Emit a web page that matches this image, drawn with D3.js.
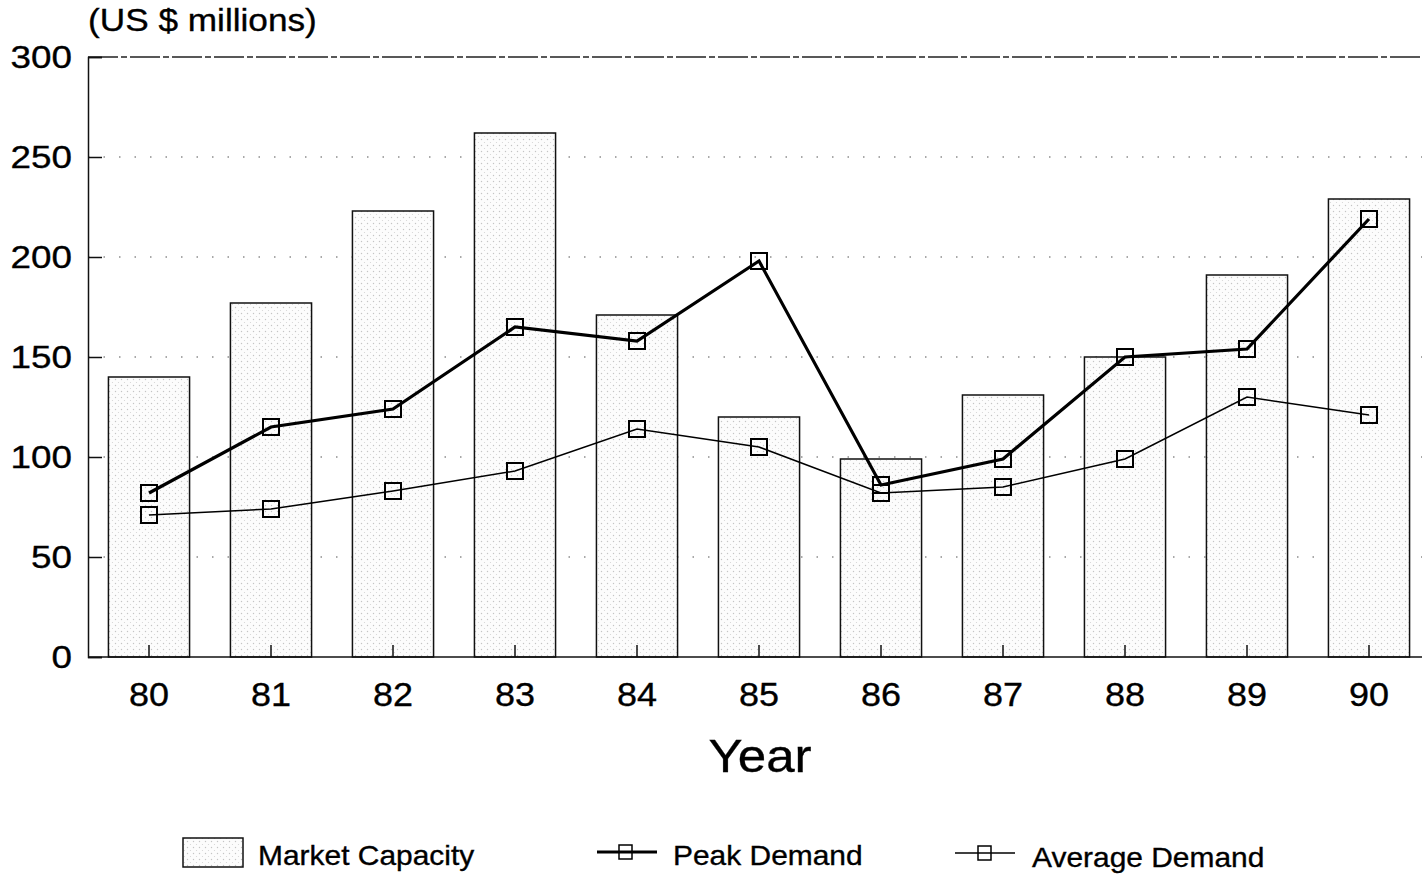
<!DOCTYPE html>
<html><head><meta charset="utf-8">
<script src="https://cdn.jsdelivr.net/npm/d3@7"></script>
<style>body{margin:0;background:#fff}svg{display:block;font-family:"Liberation Sans",Arial,sans-serif}text{stroke:#000;stroke-width:0.35px}</style>
</head><body><svg id="c" width="1422" height="878"></svg>
<script>
const years = ["80","81","82","83","84","85","86","87","88","89","90"];
const marketCapacity = [140,177,223,262,171,120,99,131,150,191,229];
const peakDemand = [82,115,124,165,158,198,86,99,150,154,219];
const averageDemand = [71,74,83,93,114,105,82,85,99,130,121];
const yTicks = [0,50,100,150,200,250,300];

const svg = d3.select("#c");
const L = 88, R = 1430, T = 57, B = 657;
const x = d3.scaleBand().domain(years).range([L, R]).paddingInner(0.335).paddingOuter(0.1675);
const y = d3.scaleLinear().domain([0,300]).range([B, T]);

function stretch(sel, f){
  sel.each(function(){
    const w = this.getComputedTextLength();
    d3.select(this).attr("textLength", w*f).attr("lengthAdjust","spacingAndGlyphs");
  });
}

const defs = svg.append("defs");
const pat = defs.append("pattern").attr("id","stip").attr("width",6).attr("height",6).attr("patternUnits","userSpaceOnUse");
pat.append("rect").attr("width",6).attr("height",6).attr("fill","#fcfcfc");
pat.append("circle").attr("cx",1.5).attr("cy",1.5).attr("r",0.7).attr("fill","#c4c4c4");
pat.append("circle").attr("cx",4.5).attr("cy",4.5).attr("r",0.6).attr("fill","#d4d4d4");

// gridlines
svg.append("g").selectAll("line").data(yTicks.filter(d=>d>0 && d<300)).join("line")
  .attr("x1",L).attr("x2",1422).attr("y1",d=>y(d)).attr("y2",d=>y(d))
  .attr("stroke","#555").attr("stroke-width",1.2).attr("stroke-dasharray","1.5,14");
// top frame dashed
svg.append("line").attr("x1",L).attr("x2",1422).attr("y1",y(300)).attr("y2",y(300))
  .attr("stroke","#222").attr("stroke-width",1.3).attr("stroke-dasharray","30,3,6,3");

// bars
svg.append("g").selectAll("rect").data(years).join("rect")
  .attr("x",d=>x(d)).attr("width",x.bandwidth())
  .attr("y",(d,i)=>y(marketCapacity[i])).attr("height",(d,i)=>B-y(marketCapacity[i]))
  .attr("fill","url(#stip)").attr("stroke","#111").attr("stroke-width",1.5);

// axes
const yAxis = d3.axisLeft(y).tickValues(yTicks).tickSize(-14).tickPadding(30).tickFormat(d3.format("d"));
const gy = svg.append("g").attr("transform",`translate(${L},0)`).call(yAxis);
gy.select(".domain").attr("stroke","#111").attr("stroke-width",1.5);
gy.selectAll(".tick line").attr("stroke","#111").attr("stroke-width",1.5);
gy.selectAll(".tick text").attr("font-size",32).attr("fill","#000").attr("x",-16).attr("font-family","Liberation Sans");
stretch(gy.selectAll(".tick text"), 1.15);

const xAxis = d3.axisBottom(x).tickSize(-12).tickPadding(26);
const gx = svg.append("g").attr("transform",`translate(0,${B})`).call(xAxis);
gx.select(".domain").attr("d",`M${L},0H1422`).attr("stroke","#111").attr("stroke-width",1.5);
gx.selectAll(".tick line").attr("stroke","#111").attr("stroke-width",1.5);
gx.selectAll(".tick text").attr("font-size",33).attr("fill","#000").attr("font-family","Liberation Sans");
stretch(gx.selectAll(".tick text"), 1.09);

// titles
const t1 = svg.append("text").attr("x",88).attr("y",31).attr("font-size",32).text("(US $ millions)");
stretch(t1, 1.1);
const t2 = svg.append("text").attr("x",760).attr("y",772).attr("text-anchor","middle").attr("font-size",46).text("Year");
stretch(t2, 1.11);

// lines
const line = d3.line().x((d,i)=>x(years[i])+x.bandwidth()/2).y(d=>y(d));
function series(vals, w){
  const g = svg.append("g");
  g.append("path").datum(vals).attr("d",line).attr("fill","none").attr("stroke","#000").attr("stroke-width",w);
  g.selectAll("rect").data(vals).join("rect")
    .attr("x",(d,i)=>x(years[i])+x.bandwidth()/2-8).attr("y",d=>y(d)-8)
    .attr("width",16).attr("height",16).attr("fill","none").attr("stroke","#000").attr("stroke-width",2);
}
series(averageDemand, 1.5);
series(peakDemand, 3.2);

// legend
const lg = svg.append("g").attr("font-size",28.5);
lg.append("rect").attr("x",183).attr("y",838).attr("width",60).attr("height",29).attr("fill","url(#stip)").attr("stroke","#111").attr("stroke-width",1.5);
lg.append("line").attr("x1",597).attr("x2",657).attr("y1",852).attr("y2",852).attr("stroke","#000").attr("stroke-width",3);
lg.append("rect").attr("x",619).attr("y",845).attr("width",13).attr("height",14).attr("fill","none").attr("stroke","#000").attr("stroke-width",1.5);
lg.append("line").attr("x1",955).attr("x2",1015).attr("y1",853).attr("y2",853).attr("stroke","#000").attr("stroke-width",1.5);
lg.append("rect").attr("x",978).attr("y",846).attr("width",13).attr("height",14).attr("fill","none").attr("stroke","#000").attr("stroke-width",1.5);
const lt = lg.selectAll("text.lab").data([["Market Capacity",258,865],["Peak Demand",673,865],["Average Demand",1032,867]]).join("text")
  .attr("class","lab").attr("x",d=>d[1]).attr("y",d=>d[2]).text(d=>d[0]);
stretch(lt, 1.05);
</script></body></html>
